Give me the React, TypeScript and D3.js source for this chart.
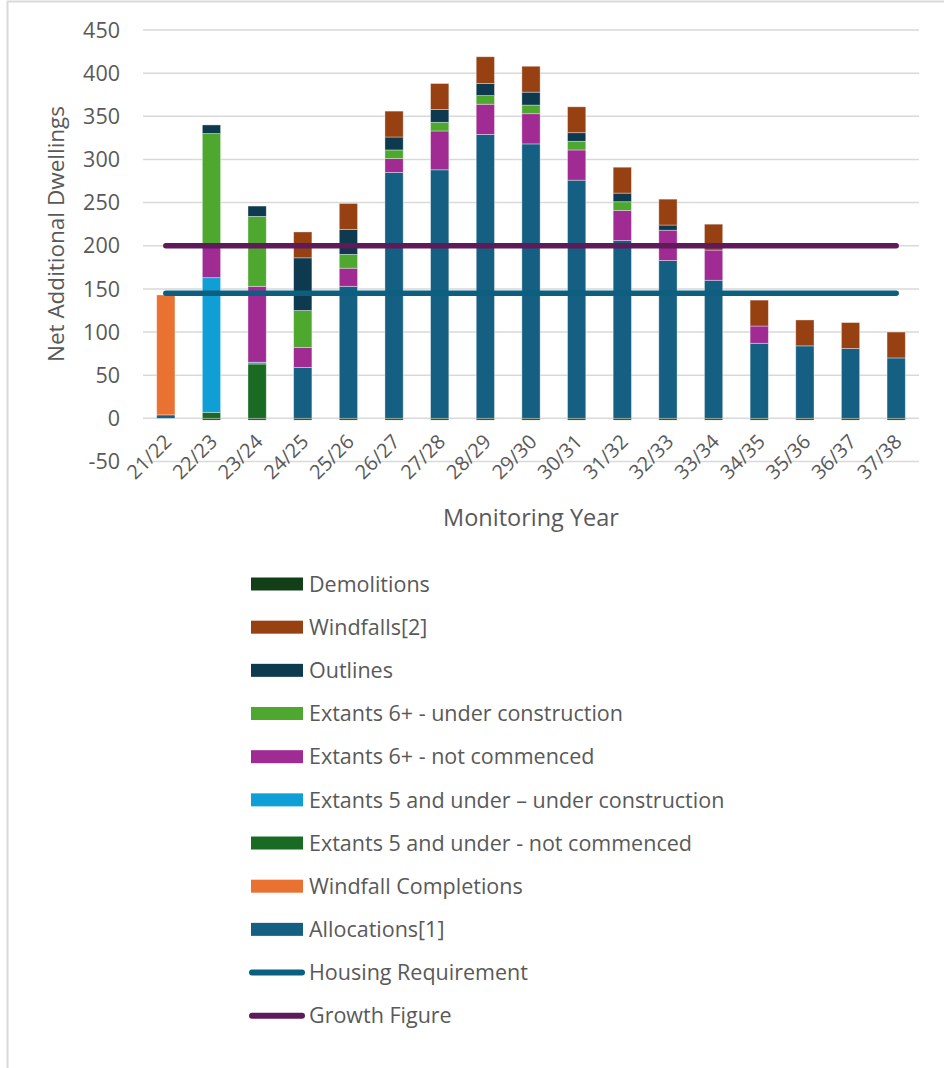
import React from "react";
import * as d3 from "d3";

const years = ["21/22", "22/23", "23/24", "24/25", "25/26", "26/27", "27/28", "28/29", "29/30", "30/31", "31/32", "32/33", "33/34", "34/35", "35/36", "36/37", "37/38"];

const allocations = [4, 0, 0, 59, 153, 285, 288, 329, 318, 276, 206, 183, 160, 87, 84, 81, 70];
const windfallCompletions = [139, 0, 0, 0, 0, 0, 0, 0, 0, 0, 0, 0, 0, 0, 0, 0, 0];
const ext5NotCommenced = [0, 7, 63, 0, 0, 0, 0, 0, 0, 0, 0, 0, 0, 0, 0, 0, 0];
const ext5UnderConstruction = [0, 156, 2, 0, 0, 0, 0, 0, 0, 0, 0, 0, 0, 0, 0, 0, 0];
const ext6NotCommenced = [0, 35, 88, 23, 21, 16, 45, 35, 35, 35, 35, 35, 35, 20, 0, 0, 0];
const ext6UnderConstruction = [0, 132, 81, 43, 16, 10, 10, 10, 10, 10, 10, 0, 0, 0, 0, 0, 0];
const outlines = [0, 10, 12, 61, 29, 15, 15, 14, 15, 10, 10, 6, 0, 0, 0, 0, 0];
const windfalls = [0, 0, 0, 30, 30, 30, 30, 31, 30, 30, 30, 30, 30, 30, 30, 30, 30];
const demolitions = [0, -2, -2, -2, -2, -2, -2, -2, -2, -2, -2, -2, -2, -2, -2, -2, -2];

const housingRequirement = 145;
const growthFigure = 200;

const yTicks = [-50, 0, 50, 100, 150, 200, 250, 300, 350, 400, 450];

// stacking order, bottom to top
const series = [
  { key: "Allocations[1]", values: allocations, color: "#156082" },
  { key: "Windfall Completions", values: windfallCompletions, color: "#e97132" },
  { key: "Extants 5 and under - not commenced", values: ext5NotCommenced, color: "#196b24" },
  { key: "Extants 5 and under \u2013 under construction", values: ext5UnderConstruction, color: "#0f9ed5" },
  { key: "Extants 6+ - not commenced", values: ext6NotCommenced, color: "#a02b93" },
  { key: "Extants 6+ - under construction", values: ext6UnderConstruction, color: "#4ea72e" },
  { key: "Outlines", values: outlines, color: "#0e3a50" },
  { key: "Windfalls[2]", values: windfalls, color: "#974012" },
  { key: "Demolitions", values: demolitions, color: "#123f18" },
];

const lines = [
  { key: "Housing Requirement", value: housingRequirement, color: "#0d5f80" },
  { key: "Growth Figure", value: growthFigure, color: "#5e1a59" },
];

const W = 944;
const H = 1068;
const FONT = "'Open Sans', 'Liberation Sans', sans-serif";
const TXT = "#595959";

export default function App() {
  const x = d3.scaleBand<string>().domain(years).range([143, 919]).paddingInner(0.6).paddingOuter(0.3);
  const y = d3.scaleLinear().domain([-50, 450]).range([461.5, 30]);

  const rows = years.map((yr, i) => {
    const r: Record<string, any> = { year: yr };
    series.forEach(s => { r[s.key] = s.values[i]; });
    return r;
  });
  const stacked = d3.stack<any>()
    .keys(series.map(s => s.key))
    .offset(d3.stackOffsetDiverging)(rows);

  const first = x(years[0])! + x.bandwidth() / 2;
  const last = x(years[years.length - 1])! + x.bandwidth() / 2;

  const legendItems = [...series].reverse().map(s => ({ key: s.key, color: s.color, type: "rect" }))
    .concat(lines.map(l => ({ key: l.key, color: l.color, type: "line" })));
  const legendY = d3.scaleLinear().domain([0, legendItems.length - 1]).range([584, 1015.7]);

  return (
    <svg width={W} height={H} style={{ position: "absolute", left: 0, top: 0, background: "#fff" }} fontFamily={FONT}>
      <rect x={7.5} y={1.5} width={W + 10} height={H + 10} fill="none" stroke="#d9d9d9" strokeWidth={2} />

      {/* gridlines + y labels */}
      {yTicks.map(t => (
        <g key={t}>
          <line x1={143} x2={919} y1={y(t)} y2={y(t)} stroke="#d9d9d9" strokeWidth={1.5} />
          <text x={120} y={y(t)} dy="0.36em" textAnchor="end" fontSize={21.5} fill={TXT}>{t}</text>
        </g>
      ))}

      {/* bars */}
      {stacked.map((layer, li) => (
        <g key={layer.key} fill={series[li].color}>
          {layer.map((d, i) => {
            const h = Math.abs(y(d[0]) - y(d[1]));
            if (h === 0) return null;
            return (
              <rect key={i} x={x(years[i])} width={x.bandwidth()} y={Math.min(y(d[0]), y(d[1]))} height={h}
                stroke="#ffffff" strokeOpacity={0.45} strokeWidth={0.8} />
            );
          })}
        </g>
      ))}

      {/* reference lines */}
      {lines.map(l => (
        <line key={l.key} x1={first} x2={last} y1={y(l.value)} y2={y(l.value)} stroke={l.color} strokeWidth={5.5} strokeLinecap="round" />
      ))}

      {/* x labels */}
      {years.map(yr => {
        const cx = x(yr)! + x.bandwidth() / 2;
        return (
          <text key={yr} transform={`translate(${cx + 7},${443}) rotate(-45)`} textAnchor="end" fontSize={20} fill={TXT}>{yr}</text>
        );
      })}

      <text x={531} y={526} textAnchor="middle" fontSize={23.5} fill={TXT}>Monitoring Year</text>
      <text transform={`translate(64,234) rotate(-90)`} textAnchor="middle" fontSize={22.5} fill={TXT}>Net Additional Dwellings</text>

      {/* legend */}
      {legendItems.map((it, i) => {
        const ly = legendY(i);
        return (
          <g key={it.key}>
            {it.type === "rect"
              ? <rect x={251} y={ly - 6.5} width={52} height={13} fill={it.color} />
              : <line x1={252} x2={302} y1={ly} y2={ly} stroke={it.color} strokeWidth={6} strokeLinecap="round" />}
            <text x={309} y={ly} dy="0.36em" fontSize={21.5} fill={TXT}>{it.key}</text>
          </g>
        );
      })}
    </svg>
  );
}
